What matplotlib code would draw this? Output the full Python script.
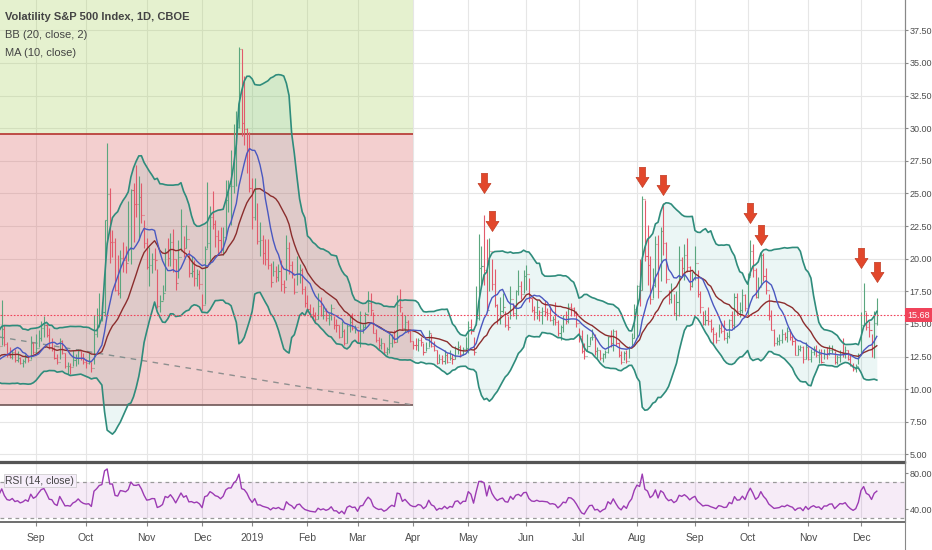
import numpy as np
import pandas as pd
import matplotlib
matplotlib.use("Agg")
import matplotlib.pyplot as plt
import matplotlib.transforms as mtransforms
from matplotlib.path import Path
from matplotlib.lines import Line2D
from matplotlib.patches import Rectangle

# VIX daily bars, 17 Jul 2018 .. 10 Dec 2019 (first bars sit left of the view and only feed the indicators)
close = [
    12.06, 12.10, 12.87, 12.86, 12.62, 12.41, 12.29, 12.14, 13.03, 14.26, 12.83,  # jul 18
    13.15, 12.19, 11.64, 11.27, 10.93, 10.85, 11.27, 13.16, 14.78, 13.31, 14.64, 13.45, 12.64, 12.49, 12.86, 12.25, 12.41, 11.99, 12.16, 12.50, 12.25, 13.53, 12.86,  # aug
    13.16, 13.91, 14.65, 14.88, 14.16, 13.22, 13.14, 12.37, 12.07, 13.68, 12.79, 11.75, 11.80, 11.68, 12.20, 12.42, 12.89, 12.41, 12.12,  # sep
    12.00, 12.05, 11.61, 14.22, 14.82, 15.69, 15.95, 22.96, 24.98, 21.31, 21.30, 17.62, 17.40, 20.06, 19.89, 19.64, 20.71, 25.23, 24.22, 24.16, 24.70, 23.35, 21.23,  # oct
    19.34, 19.51, 19.96, 19.91, 16.36, 16.72, 17.36, 20.45, 20.02, 21.25, 19.98, 18.14, 20.10, 22.48, 20.80, 21.52, 18.90, 19.02, 18.49, 18.79, 18.07,  # nov
    16.44, 20.74, 21.19, 23.23, 22.64, 21.76, 21.46, 20.65, 21.63, 24.52, 25.58, 25.58, 28.38, 30.11, 36.07, 30.41, 29.96, 28.34, 25.42,  # dec
    23.22, 25.45, 21.38, 21.40, 20.47, 19.98, 19.50, 18.19, 19.07, 18.60, 19.04, 18.06, 17.80, 20.80, 19.52, 18.89, 17.42, 18.87, 19.13, 17.66, 16.57,  # jan 19
    16.14, 15.73, 15.57, 15.38, 16.37, 15.72, 15.97, 15.43, 15.65, 16.22, 14.91, 14.88, 14.02, 14.46, 13.51, 14.85, 15.17, 14.70, 14.78,  # feb
    13.57, 14.63, 14.74, 15.74, 16.59, 16.05, 14.33, 13.77, 13.41, 13.50, 12.88, 13.10, 13.56, 13.91, 13.63, 16.48, 16.33, 14.68, 15.15, 14.43, 13.71,  # mar
    13.40, 13.36, 13.74, 13.58, 12.82, 13.18, 14.28, 13.30, 13.02, 12.01, 12.32, 12.18, 12.60, 12.09, 12.42, 12.28, 13.14, 13.25, 12.73, 13.11, 13.12,  # apr
    14.80, 14.42, 12.87, 15.44, 19.32, 19.40, 19.10, 16.04, 20.55, 18.06, 16.44, 15.29, 15.96, 16.31, 14.95, 14.75, 16.92, 15.85, 17.50, 17.90, 17.30, 18.71,  # may
    18.86, 16.97, 16.09, 15.93, 16.30, 15.94, 15.99, 15.91, 15.82, 15.28, 15.35, 15.15, 14.33, 14.75, 15.40, 15.26, 16.28, 16.21, 15.82, 15.08,  # jun
    14.06, 12.93, 12.57, 13.28, 13.96, 14.02, 12.93, 13.03, 12.39, 12.68, 12.86, 13.97, 13.53, 14.45, 13.53, 12.61, 12.07, 12.74, 12.16, 13.24, 13.94, 16.12,  # jul
    17.87, 17.61, 24.59, 20.17, 19.49, 16.91, 17.97, 21.09, 17.52, 22.10, 21.18, 18.47, 16.88, 17.50, 15.80, 16.68, 19.87, 19.32, 20.31, 19.35, 17.88, 18.98,  # aug
    19.66, 17.33, 16.27, 15.00, 15.27, 15.20, 14.61, 14.22, 13.74, 14.67, 14.44, 13.95, 14.05, 15.32, 14.91, 17.05, 15.96, 16.07, 17.22, 16.24,  # sep
    18.56, 20.56, 19.12, 17.04, 17.86, 20.28, 18.64, 17.57, 15.58, 14.57, 13.54, 13.68, 13.79, 14.25, 14.00, 14.46, 14.01, 13.71, 12.65, 13.11, 13.20, 12.33, 13.22,  # oct
    12.30, 12.83, 13.10, 12.62, 12.73, 12.07, 12.69, 12.68, 13.00, 13.05, 12.05, 12.46, 12.86, 12.78, 12.98, 12.34, 11.87, 11.54, 11.75, 12.62,  # nov
    14.91, 15.96, 14.80, 14.52, 13.62, 15.08, 15.68,  # dec
]
high = [
    13.0, 12.6, 13.4, 13.5, 13.6, 12.9, 13.1, 12.7, 14.1, 14.6, 14.5,
    13.6, 13.9, 12.6, 12.0, 11.6, 11.3, 11.5, 14.2, 15.0, 14.6, 16.86, 14.9, 13.6, 13.2, 13.0, 13.1, 12.9, 12.5, 12.3, 12.7, 12.6, 14.1, 13.6,
    14.2, 14.5, 15.2, 15.6, 15.0, 14.7, 13.9, 13.2, 12.7, 13.9, 13.8, 12.8, 12.1, 12.0, 13.0, 12.7, 13.1, 12.9, 12.8,
    12.3, 12.8, 12.1, 15.7, 16.2, 17.4, 16.7, 23.0, 28.84, 25.4, 22.2, 21.6, 20.3, 20.7, 21.3, 21.0, 24.4, 25.3, 25.8, 27.2, 26.3, 25.8, 23.0,
    21.6, 20.9, 20.4, 20.8, 19.2, 17.2, 18.0, 20.8, 21.6, 22.0, 22.3, 20.0, 21.4, 23.8, 21.7, 22.6, 20.7, 20.2, 19.9, 19.2, 19.1,
    17.3, 21.0, 25.9, 24.0, 25.2, 23.0, 22.2, 22.4, 22.4, 26.0, 26.0, 28.3, 30.3, 31.3, 36.2, 36.1, 34.0, 30.0, 29.7,
    26.2, 26.2, 24.3, 22.8, 21.8, 21.5, 21.5, 19.7, 19.8, 19.4, 19.6, 19.9, 18.4, 21.8, 21.3, 19.8, 18.5, 20.2, 19.6, 19.3, 17.9,
    17.2, 16.5, 16.3, 15.9, 17.4, 17.1, 16.4, 16.2, 15.8, 16.5, 15.6, 15.4, 14.9, 15.2, 14.6, 15.0, 15.6, 15.8, 14.9,
    14.5, 16.0, 15.0, 15.9, 17.5, 17.4, 15.9, 14.6, 14.0, 13.9, 13.5, 13.2, 14.2, 14.2, 14.5, 17.2, 17.7, 15.9, 15.7, 15.3, 14.5,
    13.7, 13.9, 13.9, 14.0, 13.5, 13.6, 14.5, 14.2, 13.7, 13.0, 12.7, 12.6, 13.0, 12.8, 13.0, 12.7, 13.3, 13.7, 13.4, 13.2, 14.0,
    15.2, 15.4, 14.0, 17.9, 21.9, 21.0, 23.38, 21.5, 21.6, 20.0, 19.2, 16.5, 17.1, 17.4, 16.0, 15.6, 17.9, 16.6, 17.6, 19.1, 18.3, 19.1,
    19.5, 18.5, 17.0, 16.4, 16.8, 16.1, 16.3, 16.8, 16.2, 16.4, 15.6, 16.7, 15.3, 14.9, 15.7, 16.0, 16.6, 16.6, 16.3, 16.0,
    14.7, 14.5, 13.5, 14.2, 14.0, 14.6, 14.2, 13.2, 13.0, 12.8, 13.0, 14.1, 14.5, 14.6, 14.5, 13.6, 12.9, 12.9, 13.0, 13.3, 14.3, 16.5,
    18.0, 20.0, 24.81, 24.5, 22.6, 20.2, 19.3, 21.7, 21.8, 22.4, 24.25, 21.3, 17.6, 18.1, 17.3, 17.5, 21.0, 20.1, 21.1, 21.6, 19.4, 19.0,
    21.0, 19.1, 17.5, 16.0, 16.1, 16.3, 15.4, 14.8, 14.4, 15.0, 15.2, 15.3, 14.4, 15.4, 16.0, 17.4, 17.4, 16.7, 17.7, 17.3,
    18.9, 21.46, 21.1, 19.3, 18.6, 20.5, 20.4, 19.3, 17.3, 16.1, 14.6, 14.0, 14.2, 14.6, 14.4, 14.8, 14.6, 14.2, 13.9, 13.4, 13.4, 13.3, 13.6,
    13.2, 13.1, 13.3, 13.4, 13.1, 13.1, 13.1, 13.2, 13.4, 13.4, 12.9, 12.6, 13.0, 13.9, 13.3, 13.0, 12.6, 12.0, 11.9, 12.8,
    15.9, 18.1, 15.9, 15.2, 14.2, 16.0, 17.0,
]
low = [
    11.9, 11.9, 12.2, 12.4, 12.5, 11.9, 12.0, 11.9, 12.3, 13.0, 12.7,
    12.5, 12.0, 11.5, 11.2, 10.8, 10.6, 10.8, 11.8, 13.2, 13.0, 13.4, 13.3, 12.5, 12.4, 12.3, 12.1, 12.1, 11.9, 11.7, 12.0, 12.1, 12.3, 12.7,
    12.8, 13.2, 13.7, 14.0, 14.0, 13.1, 12.9, 12.3, 11.9, 12.3, 12.7, 11.6, 11.2, 11.2, 11.8, 11.8, 11.9, 12.2, 11.9,
    11.6, 11.9, 11.3, 11.9, 14.0, 14.8, 15.2, 15.6, 21.1, 19.7, 20.1, 17.5, 17.2, 17.0, 19.0, 18.9, 19.8, 19.6, 21.3, 23.2, 21.4, 22.7, 20.8,
    19.2, 17.9, 18.9, 19.1, 16.2, 15.9, 16.8, 17.5, 19.4, 19.4, 19.0, 17.6, 18.5, 20.6, 20.1, 20.8, 18.6, 18.6, 17.9, 17.9, 17.7,
    16.1, 16.5, 20.8, 19.6, 22.3, 20.9, 20.3, 20.4, 20.3, 21.5, 23.6, 22.6, 25.0, 25.6, 30.0, 29.4, 28.7, 26.6, 25.1,
    22.3, 23.0, 21.1, 20.2, 19.6, 19.5, 19.2, 17.8, 18.7, 18.2, 18.3, 17.5, 17.4, 18.4, 18.8, 18.5, 17.3, 18.0, 18.1, 17.3, 16.3,
    15.9, 15.5, 15.3, 15.1, 15.4, 15.6, 15.4, 15.2, 14.9, 15.3, 14.6, 14.4, 13.9, 14.0, 13.4, 13.5, 14.4, 14.5, 14.3,
    13.5, 13.2, 14.3, 14.7, 15.9, 15.7, 14.3, 13.6, 13.1, 13.1, 12.7, 12.6, 12.8, 13.2, 13.5, 13.6, 15.9, 14.5, 14.4, 14.3, 13.6,
    13.1, 13.0, 12.9, 13.3, 12.6, 12.9, 13.2, 13.2, 12.9, 11.9, 12.0, 11.9, 11.9, 12.0, 12.2, 11.9, 12.3, 12.7, 12.5, 12.6, 12.9,
    12.8, 14.2, 12.6, 14.9, 15.3, 17.8, 18.0, 15.9, 17.5, 17.6, 16.3, 15.0, 15.0, 15.8, 14.8, 14.5, 15.4, 15.6, 15.4, 17.2, 16.9, 17.4,
    17.6, 16.7, 15.9, 15.3, 15.4, 15.2, 15.0, 15.6, 15.3, 15.2, 14.9, 14.9, 14.1, 13.8, 14.4, 15.0, 15.1, 15.6, 15.6, 14.8,
    13.6, 12.8, 12.3, 12.9, 13.4, 13.8, 12.6, 12.4, 12.2, 12.1, 12.4, 12.8, 13.2, 12.9, 13.4, 12.5, 11.9, 12.2, 12.0, 12.4, 13.2, 13.9,
    14.0, 16.4, 17.6, 19.8, 18.0, 16.5, 17.0, 17.8, 17.0, 18.3, 20.3, 18.1, 16.5, 16.6, 15.7, 15.3, 15.6, 18.7, 18.4, 19.0, 17.6, 17.8,
    18.4, 17.1, 15.8, 14.9, 14.9, 14.9, 14.4, 13.4, 13.5, 14.0, 14.3, 13.8, 13.5, 13.9, 14.7, 14.6, 15.7, 15.5, 15.8, 16.0,
    15.7, 18.7, 18.6, 17.0, 17.0, 17.9, 18.3, 17.3, 15.3, 14.5, 13.3, 13.4, 13.4, 13.5, 13.8, 13.6, 13.8, 13.4, 12.6, 12.6, 12.9, 12.0, 12.3,
    12.2, 12.1, 12.6, 12.5, 12.0, 12.0, 12.3, 12.3, 12.6, 12.8, 11.9, 11.9, 12.1, 12.5, 12.4, 12.2, 11.8, 11.4, 11.3, 11.9,
    12.6, 14.9, 14.5, 14.0, 12.5, 12.4, 14.9,
]

# exchange holidays inside the range
holidays = ["2018-09-03", "2018-11-22", "2018-12-05", "2018-12-25", "2019-01-01", "2019-01-21",
            "2019-02-18", "2019-04-19", "2019-05-27", "2019-07-04", "2019-09-02", "2019-11-28"]

# drawings on the chart: zone boxes, trend line, arrows
zone_end = "2019-04-01"
zone_top = 29.55
zone_bottom = 8.79
trend_dates = ["2018-08-14", "2019-04-01"]
trend_levels = [14.0, 8.79]
arrow_dates = ["2019-05-09", "2019-05-14", "2019-08-05", "2019-08-15",
               "2019-10-02", "2019-10-08", "2019-12-02", "2019-12-10"]
arrow_tips = [25.0, 22.1, 25.5, 24.9, 22.75, 21.05, 19.25, 18.25]

FONT = ["Liberation Sans", "DejaVu Sans"]
plt.rcParams["font.family"] = FONT

dates = pd.bdate_range("2018-07-17", "2019-12-10")
dates = dates[~dates.isin(pd.to_datetime(holidays))][:len(close)]
pos = {d.strftime("%Y-%m-%d"): i for i, d in enumerate(dates)}

c = pd.Series(close, dtype=float)
h = np.array(high)
l = np.array(low)
o = c.shift(1).fillna(c[0]).values
x = np.arange(len(c))

# indicators
basis = c.rolling(20).mean()
dev = c.rolling(20).std(ddof=0)
upper = basis + 2 * dev
lower = basis - 2 * dev
ma10 = c.rolling(10).mean()
d = c.diff()
gain = d.clip(lower=0).ewm(alpha=1 / 14, adjust=False).mean()
loss = (-d.clip(upper=0)).ewm(alpha=1 / 14, adjust=False).mean()
rsi = 100 - 100 / (1 + gain / loss)
rsi[:14] = np.nan

# pixel layout of the original
W, H = 932, 550
i_sep = pos["2018-09-04"]
i_dec = pos["2019-12-02"]
ppb = (861 - 36) / (i_dec - i_sep)
x0 = i_sep - 36 / ppb
x1 = i_sep + (905 - 36) / ppb

fig = plt.figure(figsize=(W / 100, H / 100), dpi=100)
ax = fig.add_axes([0, 1 - 462 / H, 905 / W, 462 / H])
rx = fig.add_axes([0, 1 - 521.7 / H, 905 / W, 59 / H])

gridc = "#e6e6e6"
labc = "#4d4d4d"
month_idx, month_lab = [], []
prev = None
for i, dt in enumerate(dates):
    key = (dt.year, dt.month)
    if key != prev:
        prev = key
        if x0 < i < x1:
            month_idx.append(i)
            month_lab.append("2019" if dt.month == 1 else dt.strftime("%b"))

# ---------------- price pane ----------------
ax.set_xlim(x0, x1)
ax.set_ylim(4.42, 39.82)
ax.set_axisbelow(True)
ax.grid(True, color=gridc, lw=0.8)
ze = pos[zone_end]
ax.add_patch(Rectangle((x0 - 5, zone_top), ze - x0 + 5, 20, fc=(155/255, 203/255, 67/255), alpha=0.25, ec="none", zorder=1))
ax.add_patch(Rectangle((x0 - 5, zone_bottom), ze - x0 + 5, zone_top - zone_bottom, fc=(211/255, 67/255, 67/255), alpha=0.25, ec="none", zorder=1))
ax.hlines(zone_top, x0 - 5, ze, color="#b5332f", lw=1.2, zorder=2)
ax.hlines(zone_bottom, x0 - 5, ze, color="#6e5656", lw=1.2, zorder=2)
ax.plot([pos[trend_dates[0]], pos[trend_dates[1]]], trend_levels, color="#8f8f8f", lw=1, ls=(0, (4, 4)), zorder=2)

ax.fill_between(x, lower, upper, color=(0, 150/255, 136/255), alpha=0.08, lw=0, zorder=2)
ax.plot(x, upper, color="#2f8c7c", lw=1.2, zorder=4)
ax.plot(x, lower, color="#2f8c7c", lw=1.2, zorder=4)

cols = np.where(c.values >= o, "#5aa67e", "#e25a6b")
ax.vlines(x, l, h, colors=cols, lw=0.8, zorder=3)
ax.hlines(o, x - 0.4, x, colors=cols, lw=0.8, zorder=3)
ax.hlines(c.values, x, x + 0.4, colors=cols, lw=0.8, zorder=3)

ax.plot(x, basis, color="#8b2d2d", lw=1.0, zorder=5)
ax.plot(x, ma10, color="#4a58c0", lw=1.0, zorder=5)
ax.axhline(close[-1], color="#f0435a", lw=0.8, ls=(0, (1.5, 1.5)), zorder=5)

# down arrows, tip of the marker at the given level
arrow = Path([(-0.15, 1), (0.15, 1), (0.15, 0.5), (0.32, 0.5), (0, 0),
              (-0.32, 0.5), (-0.15, 0.5), (-0.15, 1), (-0.15, 1)],
             [Path.MOVETO] + [Path.LINETO] * 7 + [Path.CLOSEPOLY])
ax.plot([pos[dd] for dd in arrow_dates], arrow_tips, ls="none", marker=arrow, markersize=29,
        markerfacecolor="#e2472b", markeredgecolor="#c23c24", markeredgewidth=0.5, zorder=6)

ax.set_xticks(month_idx)
ax.tick_params(axis="x", length=0, labelbottom=False)
ticks = np.arange(5, 38, 2.5)
ax.yaxis.tick_right()
ax.set_yticks(ticks)
ax.set_yticklabels([f"{v:.2f}" for v in ticks])
ax.tick_params(axis="y", length=2.2, color="#888888", labelsize=6.5, labelcolor=labc, pad=1)
for s in ("left", "top"):
    ax.spines[s].set_visible(False)
ax.spines["right"].set_color("#888888")
ax.spines["right"].set_linewidth(0.8)
ax.spines["bottom"].set_color("#555555")
ax.spines["bottom"].set_linewidth(1.6)

# last value tag on the price scale
tag = mtransforms.blended_transform_factory(fig.transFigure, ax.transData)
fig.add_artist(Rectangle((905 / W, close[-1] - 0.53), 27 / W, 1.06, transform=tag,
                         fc="#f0435a", ec="none", zorder=5))
fig.text(918.5 / W, close[-1], f"{close[-1]:.2f}", transform=tag, ha="center", va="center",
         fontsize=6.5, color="white", zorder=6)

fig.text(5 / W, 1 - 17 / H, "Volatility S&P 500 Index, 1D, CBOE", fontsize=8, fontweight="bold", color="#444444", va="center")
fig.text(5 / W, 1 - 35 / H, "BB (20, close, 2)", fontsize=8, color="#444444", va="center")
fig.text(5 / W, 1 - 53 / H, "MA (10, close)", fontsize=8, color="#444444", va="center")

# ---------------- RSI pane ----------------
rx.set_xlim(x0, x1)
rx.set_ylim(25.8, 91.8)
rx.set_axisbelow(True)
rx.grid(True, axis="x", color=gridc, lw=0.8)
rx.axhspan(30, 70, color="#9c27b0", alpha=0.09, lw=0)
rx.axhline(70, color="#9a9a9a", lw=0.9, ls=(0, (3, 3)))
rx.axhline(30, color="#9a9a9a", lw=0.9, ls=(0, (3, 3)))
rx.plot(x, rsi, color="#9c3bb3", lw=1.0)
trans = mtransforms.blended_transform_factory(rx.transAxes, rx.transData)
rx.text(0.006, 71.5, "RSI (14, close)", transform=trans, fontsize=7.5, color="#444444", va="center",
        bbox=dict(boxstyle="square,pad=0.15", fc="#f6eefa", ec="#c8c8c8", lw=0.5))

rx.set_xticks(month_idx)
rx.set_xticklabels(month_lab)
rx.tick_params(axis="x", length=3, color="#888888", labelsize=7.5, labelcolor=labc, pad=5)
rx.yaxis.tick_right()
rx.set_yticks([40, 80])
rx.set_yticklabels(["40.00", "80.00"])
rx.tick_params(axis="y", length=2.2, color="#888888", labelsize=6.5, labelcolor=labc, pad=1)
rx.spines["left"].set_visible(False)
rx.spines["right"].set_color("#888888")
rx.spines["right"].set_linewidth(0.8)
rx.spines["top"].set_color("#555555")
rx.spines["top"].set_linewidth(1.6)
rx.spines["bottom"].set_color("#555555")
rx.spines["bottom"].set_linewidth(1.2)

fig.add_artist(Line2D([905 / W, 905 / W], [0, 1], transform=fig.transFigure, color="#888888", lw=0.8))

fig.savefig("out.png", dpi=100)
